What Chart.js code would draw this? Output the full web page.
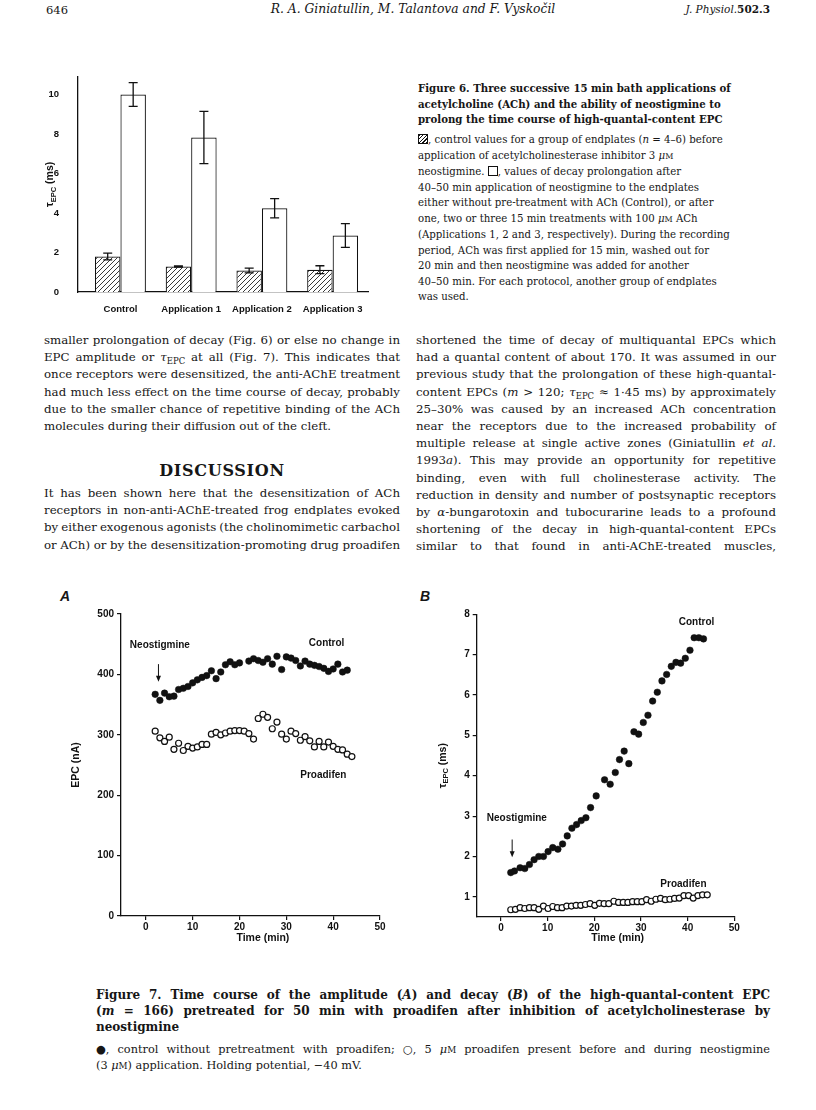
<!DOCTYPE html>
<html>
<head>
<meta charset="utf-8">
<script src="https://cdn.jsdelivr.net/npm/chart.js@4.4.1/dist/chart.umd.min.js"></script>
<style>
  body { margin: 0; background: #fff; }
  #page { position: relative; width: 816px; height: 1110px; overflow: hidden; color: #161616; font-family: "DejaVu Serif", serif; }
  .abs { position: absolute; }
  .ln { white-space: nowrap; text-align: left; }
  .col { position: absolute; font-size: 11.8px; line-height: 17.2px; }
  .col .ln { width: 100%; }
  sub { font-size: 0.72em; vertical-align: -0.3em; line-height: 0; }
  .sc { font-size: 0.78em; }
  .cap6 { position: absolute; left: 418px; font-size: 10.2px; line-height: 15.5px; }
  .cap6b { position: absolute; left: 418px; font-size: 10.2px; line-height: 15.7px; font-weight: bold; }
  .cap7 { position: absolute; left: 96px; width: 674px; }
  .cap7 .ln { width: 100%; }
  .hs { display: inline-block; width: 8px; height: 8px; border: 1px solid #111; vertical-align: -1px;
        background: repeating-linear-gradient(-45deg, #111 0 1px, #fff 1px 2.6px); }
  .os { display: inline-block; width: 8px; height: 8px; border: 1px solid #111; vertical-align: -1px; }
  .panel { position: absolute; font: italic bold 14px "Liberation Sans", sans-serif; }
  canvas { position: absolute; }
</style>
</head>
<body>
<div id="page">
  <div class="abs" style="left:46px;top:3px;font-size:11.5px;">646</div>
  <div class="abs" style="left:200px;top:2px;width:426px;text-align:center;font-style:italic;font-size:12.3px;">R. A. Giniatullin, M. Talantova and F. Vyskočil</div>
  <div class="abs" style="right:46px;top:3px;font-size:10.5px;"><i>J. Physiol.</i><b>502.3</b></div>

  <canvas id="barChart" width="345" height="260" style="left:40px;top:60px;"></canvas>

  <div class="cap6b" style="top:81px;">
    <div class="ln">Figure 6. Three successive 15 min bath applications of</div>
    <div class="ln">acetylcholine (ACh) and the ability of neostigmine to</div>
    <div class="ln">prolong the time course of high-quantal-content EPC</div>
  </div>
  <div class="cap6" style="top:132px;">
    <div class="ln"><span class="hs"></span>, control values for a group of endplates (<i>n</i> = 4–6) before</div>
    <div class="ln">application of acetylcholinesterase inhibitor 3 <i>μ</i><span class="sc">M</span></div>
    <div class="ln">neostigmine. <span class="os"></span>, values of decay prolongation after</div>
    <div class="ln">40–50 min application of neostigmine to the endplates</div>
    <div class="ln">either without pre-treatment with ACh (Control), or after</div>
    <div class="ln">one, two or three 15 min treatments with 100 <i>μ</i><span class="sc">M</span> ACh</div>
    <div class="ln">(Applications 1, 2 and 3, respectively). During the recording</div>
    <div class="ln">period, ACh was first applied for 15 min, washed out for</div>
    <div class="ln">20 min and then neostigmine was added for another</div>
    <div class="ln">40–50 min. For each protocol, another group of endplates</div>
    <div class="ln">was used.</div>
  </div>

  <div class="col" style="left:44px;top:332px;width:356px;">
    <div class="ln j">smaller prolongation of decay (Fig. 6) or else no change in</div>
    <div class="ln j">EPC amplitude or <i>τ</i><sub>EPC</sub> at all (Fig. 7). This indicates that</div>
    <div class="ln j">once receptors were desensitized, the anti-AChE treatment</div>
    <div class="ln j">had much less effect on the time course of decay, probably</div>
    <div class="ln j">due to the smaller chance of repetitive binding of the ACh</div>
    <div class="ln">molecules during their diffusion out of the cleft.</div>
  </div>
  <div class="abs" style="left:44px;top:461px;width:356px;text-align:center;font-weight:bold;font-size:16px;letter-spacing:0.7px;">DISCUSSION</div>
  <div class="col" style="left:44px;top:485px;width:356px;">
    <div class="ln j">It has been shown here that the desensitization of ACh</div>
    <div class="ln j">receptors in non-anti-AChE-treated frog endplates evoked</div>
    <div class="ln j">by either exogenous agonists (the cholinomimetic carbachol</div>
    <div class="ln j">or ACh) or by the desensitization-promoting drug proadifen</div>
  </div>

  <div class="col" style="left:416px;top:332px;width:360px;">
    <div class="ln j">shortened the time of decay of multiquantal EPCs which</div>
    <div class="ln j">had a quantal content of about 170. It was assumed in our</div>
    <div class="ln j">previous study that the prolongation of these high-quantal-</div>
    <div class="ln j">content EPCs (<i>m</i> &gt; 120; <i>τ</i><sub>EPC</sub> ≈ 1·45 ms) by approximately</div>
    <div class="ln j">25–30% was caused by an increased ACh concentration</div>
    <div class="ln j">near the receptors due to the increased probability of</div>
    <div class="ln j">multiple release at single active zones (Giniatullin <i>et al.</i></div>
    <div class="ln j">1993<i>a</i>). This may provide an opportunity for repetitive</div>
    <div class="ln j">binding, even with full cholinesterase activity. The</div>
    <div class="ln j">reduction in density and number of postsynaptic receptors</div>
    <div class="ln j">by <i>α</i>-bungarotoxin and tubocurarine leads to a profound</div>
    <div class="ln j">shortening of the decay in high-quantal-content EPCs</div>
    <div class="ln j">similar to that found in anti-AChE-treated muscles,</div>
  </div>

  <div class="panel" style="left:60px;top:588px;">A</div>
  <div class="panel" style="left:420px;top:588px;">B</div>
  <canvas id="chartA" width="345" height="360" style="left:50px;top:590px;"></canvas>
  <canvas id="chartB" width="360" height="360" style="left:390px;top:590px;"></canvas>

  <div class="cap7" style="top:987px;font-size:12px;line-height:16px;font-weight:bold;">
    <div class="ln j">Figure 7. Time course of the amplitude (<i>A</i>) and decay (<i>B</i>) of the high-quantal-content EPC</div>
    <div class="ln j">(<i>m</i> = 166) pretreated for 50 min with proadifen after inhibition of acetylcholinesterase by</div>
    <div class="ln">neostigmine</div>
  </div>
  <div class="cap7" style="top:1042px;font-size:11.3px;line-height:16px;">
    <div class="ln j">●, control without pretreatment with proadifen; ○, 5 <i>μ</i><span class="sc">M</span> proadifen present before and during neostigmine</div>
    <div class="ln">(3 <i>μ</i><span class="sc">M</span>) application. Holding potential, −40 mV.</div>
  </div>
</div>

<script>
// Figure 6 - decay time constant before / after neostigmine
const barCategories = ["Control", "Application 1", "Application 2", "Application 3"];
const beforeMean = [1.80, 1.29, 1.09, 1.13];
const beforeErr = [0.17, 0.03, 0.12, 0.20];
const afterMean = [10.0, 7.82, 4.24, 2.86];
const afterErr = [0.60, 1.32, 0.49, 0.60];
const barTicks = [0, 2, 4, 6, 8, 10];

// Figure 7A - EPC amplitude (nA) vs time (min)
const aControlTime = [2, 3, 4, 5, 6, 7, 8, 9, 10, 11, 12, 13, 14, 15, 16, 17, 18, 19, 20, 22, 23, 24, 25, 26, 27, 28, 29, 30, 31, 32, 33, 34, 35, 36, 37, 38, 39, 40, 41, 42, 43];
const aControlEpc = [367, 357, 369, 363, 364, 375, 377, 380, 386, 391, 395, 398, 406, 393, 404, 416, 421, 416, 419, 422, 426, 423, 420, 426, 417, 430, 408, 429, 427, 423, 414, 422, 417, 415, 413, 410, 405, 409, 417, 404, 407];
const aProadifenTime = [2, 3, 4, 5, 6, 7, 8, 9, 10, 11, 12, 13, 14, 15, 16, 17, 18, 19, 20, 21, 22, 23, 24, 25, 26, 27, 28, 29, 30, 31, 32, 33, 34, 35, 36, 37, 38, 39, 40, 41, 42, 43, 44];
const aProadifenEpc = [306, 295, 289, 296, 276, 286, 274, 281, 278, 280, 284, 284, 301, 304, 300, 303, 306, 307, 307, 306, 302, 293, 327, 334, 329, 310, 321, 301, 293, 306, 302, 291, 297, 290, 280, 289, 280, 288, 281, 276, 275, 268, 264];
const aTicksX = [0, 10, 20, 30, 40, 50];
const aTicksY = [0, 100, 200, 300, 400, 500];

// Figure 7B - tau EPC (ms) vs time (min)
const bControlTime = [2.1, 2.9, 4.1, 5.1, 6.1, 7.1, 8.1, 9.1, 10.1, 11.1, 12.2, 13.2, 14.2, 15.2, 16.2, 17.2, 18.2, 19.2, 20.4, 22.2, 23.4, 24.5, 25.4, 26.4, 27.4, 28.5, 29.5, 30.5, 31.5, 32.5, 33.5, 34.5, 35.5, 36.5, 37.5, 38.5, 39.5, 40.5, 41.4, 42.4, 43.4];
const bControlTau = [1.60, 1.64, 1.72, 1.70, 1.80, 1.92, 2.00, 2.00, 2.12, 2.22, 2.18, 2.31, 2.51, 2.70, 2.79, 2.89, 2.96, 3.21, 3.50, 3.90, 3.79, 4.08, 4.40, 4.61, 4.30, 5.09, 5.03, 5.32, 5.50, 5.85, 6.07, 6.35, 6.51, 6.71, 6.81, 6.79, 6.91, 7.11, 7.42, 7.42, 7.39];
const bProadifenTime = [2.1, 3.1, 4.1, 5.1, 6.1, 7.1, 8.1, 9.1, 10.1, 11.1, 12.1, 13.1, 14.1, 15.1, 16.1, 17.1, 18.1, 19.1, 20.1, 21.1, 22.1, 23.1, 24.2, 25.2, 26.2, 27.2, 28.2, 29.2, 30.2, 31.2, 32.2, 33.2, 34.2, 35.2, 36.2, 37.2, 38.2, 39.2, 40.2, 41.2, 42.2, 43.2, 44.2];
const bProadifenTau = [0.68, 0.69, 0.73, 0.71, 0.73, 0.73, 0.69, 0.77, 0.71, 0.76, 0.73, 0.73, 0.77, 0.77, 0.79, 0.79, 0.81, 0.83, 0.79, 0.84, 0.83, 0.83, 0.89, 0.86, 0.86, 0.86, 0.88, 0.88, 0.88, 0.93, 0.89, 0.94, 0.96, 0.93, 0.94, 0.96, 0.97, 1.03, 1.03, 0.97, 1.03, 1.05, 1.05];
const bTicksX = [0, 10, 20, 30, 40, 50];
const bTicksY = [1, 2, 3, 4, 5, 6, 7, 8];

const INK = "#111";
const sansBold = (size) => ({ family: "'Liberation Sans', Arial, sans-serif", size: size, weight: "bold" });

function zip(xs, ys) {
    return xs.map((x, i) => ({ x: x, y: ys[i] }));
}

function hatchPattern() {
    const c = document.createElement("canvas");
    c.width = 5; c.height = 5;
    const g = c.getContext("2d");
    g.fillStyle = "#fff";
    g.fillRect(0, 0, 5, 5);
    g.strokeStyle = "#222";
    g.lineWidth = 0.9;
    g.beginPath();
    g.moveTo(0, 5); g.lineTo(5, 0);
    g.moveTo(-1, 1); g.lineTo(1, -1);
    g.moveTo(4, 6); g.lineTo(6, 4);
    g.stroke();
    return g.createPattern(c, "repeat");
}

// error bars for the bar chart (dataset.errors)
const errorBars = {
    id: "errorBars",
    afterDatasetsDraw(chart) {
        const ctx = chart.ctx;
        const y = chart.scales.y;
        ctx.save();
        ctx.strokeStyle = INK;
        ctx.lineWidth = 1.3;
        chart.data.datasets.forEach((ds, i) => {
            if (!ds.errors) return;
            chart.getDatasetMeta(i).data.forEach((bar, j) => {
                const v = ds.data[j].y, e = ds.errors[j];
                const top = y.getPixelForValue(v + e), bot = y.getPixelForValue(v - e);
                ctx.beginPath();
                ctx.moveTo(bar.x, top); ctx.lineTo(bar.x, bot);
                ctx.moveTo(bar.x - 4.5, top); ctx.lineTo(bar.x + 4.5, top);
                ctx.moveTo(bar.x - 4.5, bot); ctx.lineTo(bar.x + 4.5, bot);
                ctx.stroke();
            });
        });
        ctx.restore();
    }
};

// labels, arrows and axis titles
const notes = {
    id: "notes",
    afterDraw(chart, args, opts) {
        const { ctx, chartArea } = chart;
        const x = chart.scales.x, y = chart.scales.y;
        ctx.save();
        ctx.fillStyle = INK;
        ctx.strokeStyle = INK;
        ctx.font = "bold 10px 'Liberation Sans', Arial, sans-serif";
        ctx.textAlign = "center";
        ctx.textBaseline = "middle";
        (opts.labels || []).forEach(l => {
            ctx.fillText(l.text, x.getPixelForValue(l.x), y.getPixelForValue(l.y));
        });
        (opts.arrows || []).forEach(a => {
            const px = x.getPixelForValue(a.x);
            const y0 = y.getPixelForValue(a.from), y1 = y.getPixelForValue(a.to);
            ctx.lineWidth = 1;
            ctx.beginPath();
            ctx.moveTo(px, y0); ctx.lineTo(px, y1 - 3);
            ctx.stroke();
            ctx.beginPath();
            ctx.moveTo(px - 2.5, y1 - 6); ctx.lineTo(px, y1); ctx.lineTo(px + 2.5, y1 - 6);
            ctx.closePath();
            ctx.fill();
        });
        if (opts.xTitle) {
            ctx.font = "bold 10.5px 'Liberation Sans', Arial, sans-serif";
            ctx.fillText(opts.xTitle.text, x.getPixelForValue(opts.xTitle.at), chartArea.bottom + opts.xTitle.offset);
        }
        if (opts.yTitle) {
            const parts = opts.yTitle.parts;
            ctx.translate(chartArea.left - opts.yTitle.offset, (chartArea.top + chartArea.bottom) / 2);
            ctx.rotate(-Math.PI / 2);
            ctx.textAlign = "left";
            ctx.textBaseline = "alphabetic";
            const fontOf = p => p.sub ? "bold 7.5px 'Liberation Sans', Arial, sans-serif"
                                      : "bold 10.5px 'Liberation Sans', Arial, sans-serif";
            let total = 0;
            parts.forEach(p => { ctx.font = fontOf(p); total += ctx.measureText(p.text).width; });
            let cx = -total / 2;
            parts.forEach(p => {
                ctx.font = fontOf(p);
                ctx.fillText(p.text, cx, p.sub ? 6.5 : 4);
                cx += ctx.measureText(p.text).width;
            });
        }
        ctx.restore();
    }
};

function fixTicks(list) {
    return s => { s.ticks = list.map(v => ({ value: v })); };
}

// ---- Figure 6 bar chart
new Chart(document.getElementById("barChart"), {
    type: "bar",
    data: {
        datasets: [{
            data: zip([0, 1, 2, 3], beforeMean),
            errors: beforeErr,
            backgroundColor: hatchPattern(),
            borderColor: INK,
            borderWidth: 1.2,
            categoryPercentage: 0.72,
            barPercentage: 1.0
        }, {
            data: zip([0, 1, 2, 3], afterMean),
            errors: afterErr,
            backgroundColor: "#fff",
            borderColor: INK,
            borderWidth: 1.2,
            categoryPercentage: 0.72,
            barPercentage: 1.0
        }]
    },
    options: {
        responsive: false,
        animation: false,
        devicePixelRatio: 1,
        layout: { padding: { top: 16, right: 17, left: 0, bottom: 0 } },
        plugins: {
            legend: { display: false },
            tooltip: { enabled: false },
            notes: { yTitle: { offset: 29, parts: [{ text: "τ" }, { text: "EPC", sub: true }, { text: " (ms)" }] } }
        },
        scales: {
            x: {
                type: "linear", min: -0.6, max: 3.5, offset: false,
                grid: { display: false, offset: false },
                border: { color: INK, width: 1.3 },
                afterBuildTicks: s => { s.ticks = barCategories.map((c, i) => ({ value: i })); },
                afterFit: s => { s.height = 28; },
                ticks: { callback: v => barCategories[v], color: INK, font: sansBold(9.5), padding: 4, maxRotation: 0, autoSkip: false }
            },
            y: {
                min: 0, max: 10.9,
                grid: { display: false },
                border: { color: INK, width: 1.3 },
                afterBuildTicks: fixTicks(barTicks),
                afterFit: s => { s.width = 38; },
                ticks: { color: INK, font: sansBold(9.5), padding: 11 }
            }
        }
    },
    plugins: [errorBars, notes]
});

function scatterChart(id, sets, o) {
    return new Chart(document.getElementById(id), {
        type: "scatter",
        data: {
            datasets: [{
                data: sets[0],
                pointRadius: 3.3,
                pointBackgroundColor: INK,
                pointBorderColor: INK,
                pointBorderWidth: 0.5
            }, {
                data: sets[1],
                pointRadius: 3,
                pointBackgroundColor: "#fff",
                pointBorderColor: INK,
                pointBorderWidth: 1.2
            }]
        },
        options: {
            responsive: false,
            animation: false,
            devicePixelRatio: 1,
            layout: { padding: o.padding },
            plugins: { legend: { display: false }, tooltip: { enabled: false }, notes: o.notes },
            scales: {
                x: {
                    type: "linear", min: o.xMin, max: o.xMax,
                    grid: { drawOnChartArea: false, tickLength: 4, color: INK, lineWidth: 1.2 },
                    border: { color: INK, width: 1.3 },
                    afterBuildTicks: fixTicks(o.xTicks),
                    afterFit: s => { s.height = o.xHeight; },
                    ticks: { color: INK, font: sansBold(10), padding: 1 }
                },
                y: {
                    min: o.yMin, max: o.yMax,
                    grid: { drawOnChartArea: false, tickLength: 4, color: INK, lineWidth: 1.2 },
                    border: { color: INK, width: 1.3 },
                    afterBuildTicks: fixTicks(o.yTicks),
                    afterFit: s => { s.width = o.yWidth; },
                    ticks: { color: INK, font: sansBold(10), padding: 3 }
                }
            }
        },
        plugins: [notes]
    });
}

// ---- Figure 7A
scatterChart("chartA", [zip(aControlTime, aControlEpc), zip(aProadifenTime, aProadifenEpc)], {
    padding: { top: 24, right: 15, left: 0, bottom: 0 },
    xMin: -5.3, xMax: 50, yMin: 0, yMax: 500,
    xTicks: aTicksX, yTicks: aTicksY, xHeight: 34, yWidth: 71,
    notes: {
        labels: [
            { text: "Neostigmine", x: 3.0, y: 449 },
            { text: "Control", x: 38.6, y: 452 },
            { text: "Proadifen", x: 37.9, y: 233 }
        ],
        arrows: [{ x: 2.7, from: 417, to: 388 }],
        xTitle: { text: "Time (min)", at: 25, offset: 22 },
        yTitle: { offset: 46, parts: [{ text: "EPC (nA)" }] }
    }
});

// ---- Figure 7B
scatterChart("chartB", [zip(bControlTime, bControlTau), zip(bProadifenTime, bProadifenTau)], {
    padding: { top: 24.3, right: 15.7, left: 0, bottom: 0 },
    xMin: -5.2, xMax: 50, yMin: 0.5, yMax: 8,
    xTicks: bTicksX, yTicks: bTicksY, xHeight: 33, yWidth: 86.7,
    notes: {
        labels: [
            { text: "Neostigmine", x: 3.4, y: 2.94 },
            { text: "Control", x: 41.9, y: 7.80 },
            { text: "Proadifen", x: 39.1, y: 1.31 }
        ],
        arrows: [{ x: 2.4, from: 2.42, to: 1.98 }],
        xTitle: { text: "Time (min)", at: 25, offset: 21 },
        yTitle: { offset: 35, parts: [{ text: "τ" }, { text: "EPC", sub: true }, { text: " (ms)" }] }
    }
});

// stretch the justified text lines to their column width
function justifyLines() {
    document.querySelectorAll(".j").forEach(el => {
        el.style.wordSpacing = "0px";
        const r = document.createRange();
        r.selectNodeContents(el);
        const w = r.getBoundingClientRect().width;
        const gaps = (el.textContent.trim().match(/ +/g) || []).length;
        if (gaps) el.style.wordSpacing = ((el.clientWidth - w) / gaps) + "px";
    });
}
justifyLines();
if (document.fonts) document.fonts.ready.then(justifyLines);
</script>
</body>
</html>
